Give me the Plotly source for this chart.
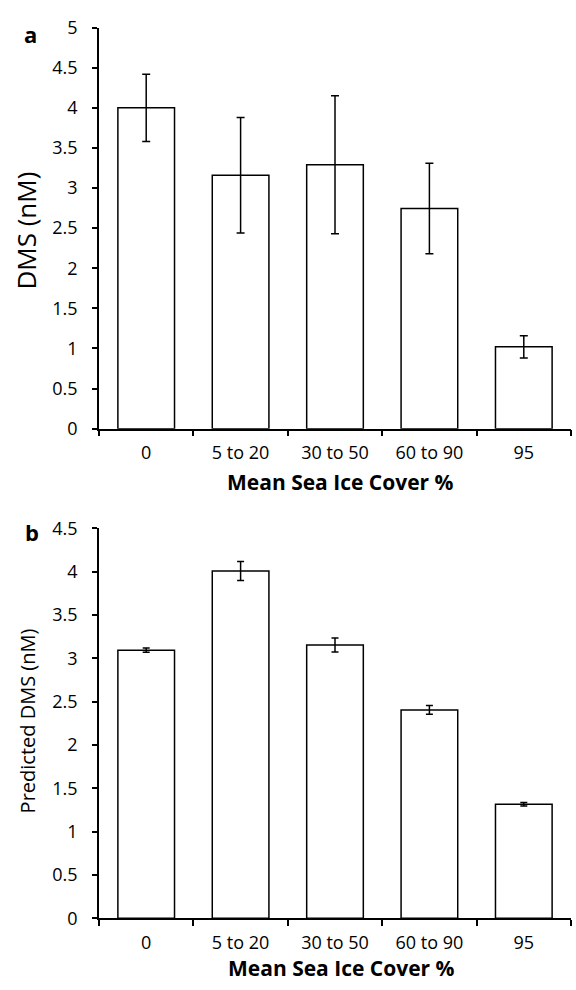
import plotly.graph_objects as go
from plotly.subplots import make_subplots

categories = ["0", "5 to 20", "30 to 50", "60 to 90", "95"]
dms_obs = [4.0, 3.16, 3.29, 2.745, 1.02]
dms_obs_err = [0.42, 0.72, 0.86, 0.565, 0.14]
dms_pred = [3.095, 4.01, 3.155, 2.405, 1.315]
dms_pred_err = [0.025, 0.11, 0.08, 0.05, 0.02]

W, H = 576, 990
FONT = "Open Sans"

fig = make_subplots(rows=2, cols=1)

fig.add_trace(go.Bar(
    x=categories, y=dms_obs, width=0.6,
    marker=dict(color="white", line=dict(color="black", width=1.5)),
    error_y=dict(type="data", array=dms_obs_err, color="black", thickness=1.5, width=4),
    showlegend=False), row=1, col=1)
fig.add_trace(go.Bar(
    x=categories, y=dms_pred, width=0.6,
    marker=dict(color="white", line=dict(color="black", width=1.5)),
    error_y=dict(type="data", array=dms_pred_err, color="black", thickness=1.5, width=3.5),
    showlegend=False), row=2, col=1)

xdom = [99 / W, 571 / W]
ax_common = dict(showline=True, linecolor="black", linewidth=1.5, ticks="outside",
                 tickwidth=1.5, tickcolor="black", showgrid=False, zeroline=False,
                 tickfont=dict(family=FONT, size=18, color="black"))

fig.update_xaxes(domain=xdom, type="category", range=[-0.5, 4.5], tickson="boundaries",
                 ticklen=6, ticklabelstandoff=7, **ax_common)
fig.update_yaxes(dtick=0.5, ticklen=5, ticklabelstandoff=11, **ax_common)
fig.update_yaxes(domain=[1 - 426 / H, 1 - 15 / H], range=[0, 5], row=1, col=1)
fig.update_yaxes(domain=[1 - 927.7 / H, 1 - 528.3 / H], range=[0, 4.5], row=2, col=1)

def ann(text, x, y, size, bold=False, angle=0):
    fig.add_annotation(text=f"<b>{text}</b>" if bold else text, x=x / W, y=1 - y / H,
                       xref="paper", yref="paper", showarrow=False, textangle=angle,
                       xanchor="center", yanchor="middle",
                       font=dict(family=FONT, size=size, color="black"))

ann("Mean Sea Ice Cover %", 340, 481, 21, bold=True)
ann("Mean Sea Ice Cover %", 341, 979, 21, bold=True)
ann("DMS (nM)", 26, 223, 26, bold=False, angle=-90)
ann("Predicted DMS (nM)", 27, 726, 20, bold=False, angle=-90)
ann("a", 30, 22, 22, bold=True)
ann("b", 32, 532, 22, bold=True)

fig.update_layout(width=W, height=H, margin=dict(l=0, r=0, t=0, b=0),
                  plot_bgcolor="white", paper_bgcolor="white", bargap=0.4)

fig.write_html("out.html")
